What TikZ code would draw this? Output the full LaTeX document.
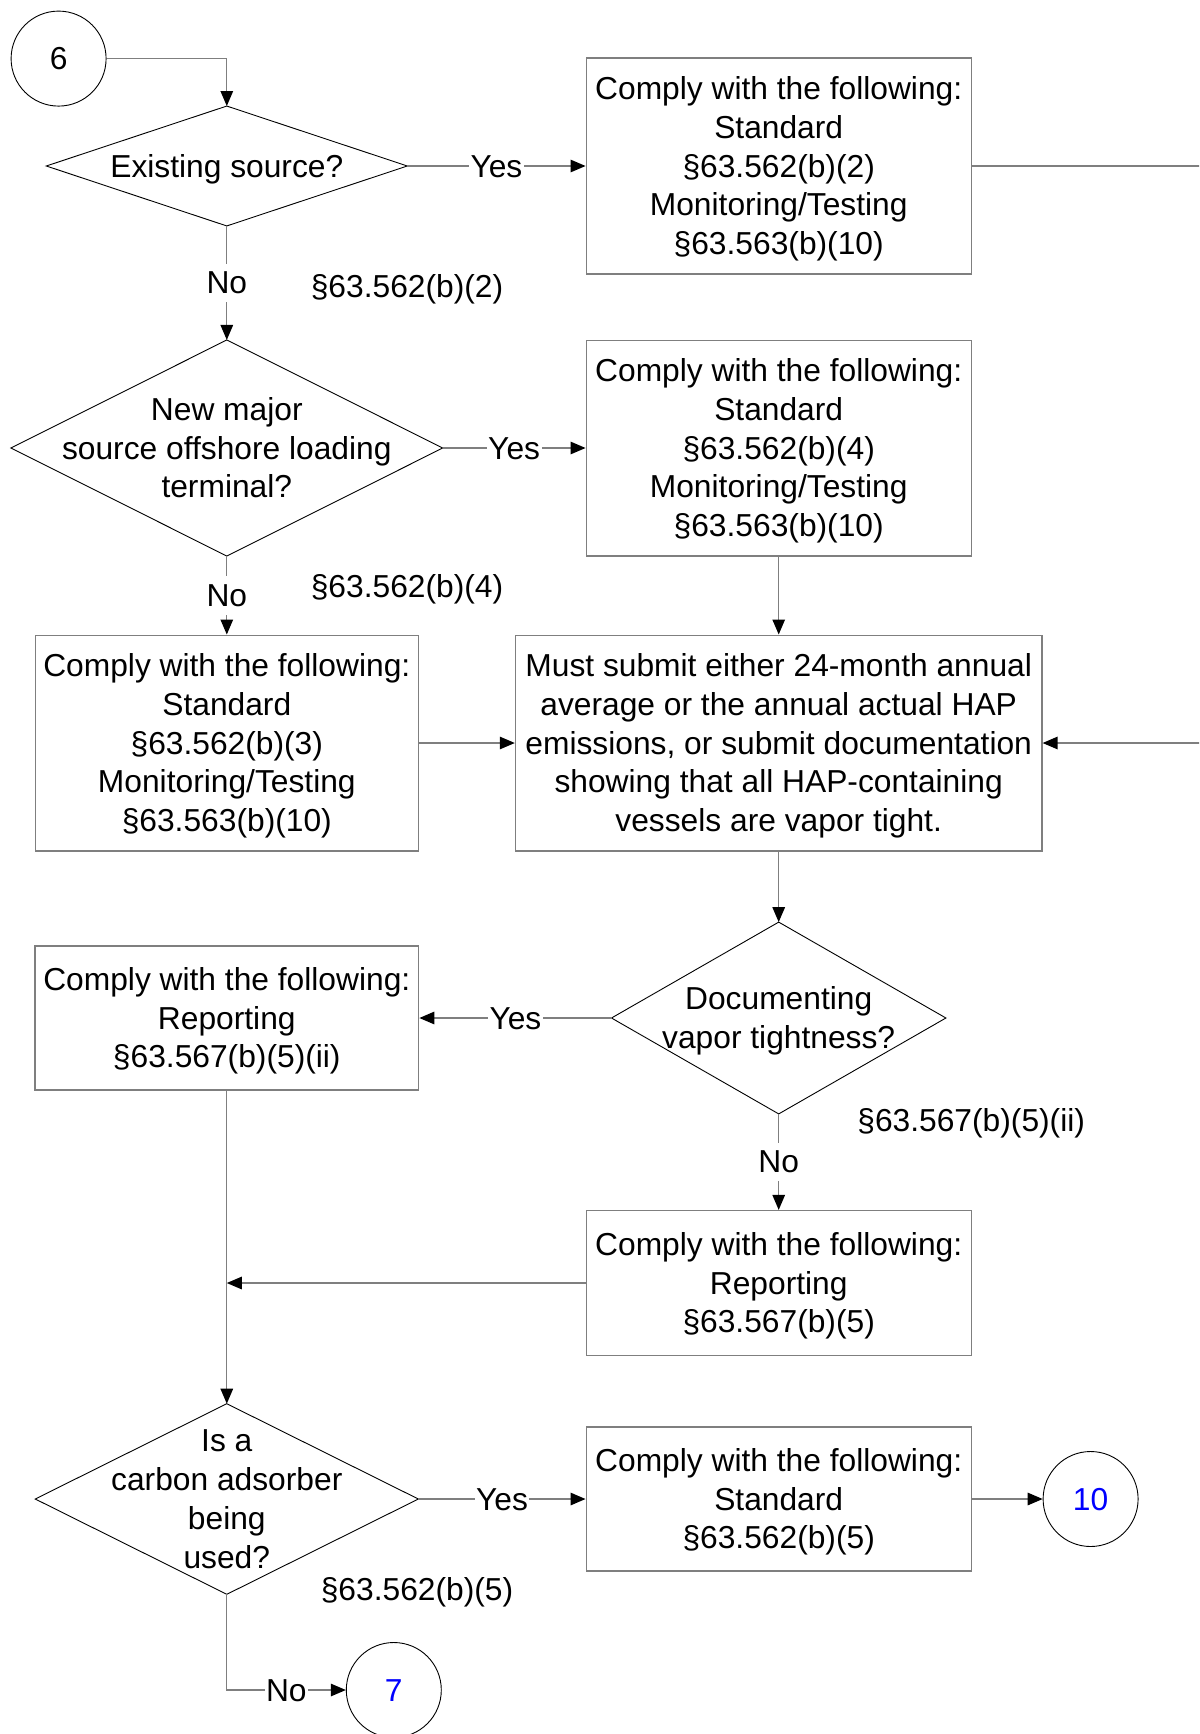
\documentclass[tikz,border=0pt]{standalone}
\usepackage{fontspec}
\setmainfont{Liberation Sans}
\usetikzlibrary{arrows.meta}
\definecolor{linegray}{HTML}{7F7F7F}
\definecolor{numblue}{HTML}{0000FF}
\tikzset{
  every node/.style={text height=28.73pt, text depth=6.73pt},
  ltwo/.style={text height=67.43pt},
  lthree/.style={text height=106.13pt},
  lfour/.style={text height=144.83pt},
  lfive/.style={text height=183.53pt},
  box/.style={rectangle, draw=linegray, line width=1.3pt, align=center, inner sep=0pt, minimum width=385pt},
  diabox/.style={rectangle, draw=none, align=center, inner sep=0pt},
  diaborder/.style={draw=black, line width=0.9pt},
  conn/.style={draw=linegray, line width=1.3pt},
  arr/.style={conn, -{Triangle[length=15pt,width=12.5pt,color=black]}},
  lbl/.style={fill=white, inner sep=1.5pt},
  sect/.style={inner sep=0pt},
  ref/.style={circle, draw=black, line width=0.9pt, minimum size=95pt, inner sep=0pt}
}
\begin{document}
\begin{tikzpicture}[x=1pt,y=-1pt,font=\fontsize{31.75pt}{38.7pt}\selectfont]
\useasboundingbox (0,0) rectangle (1199,1734);
\clip (0,0) rectangle (1199,1734);
\fill[white] (0,0) rectangle (1199,1734);

% circles
\node[ref] (c6) at (58.6,58.6) {6};
\node[ref, text=numblue] (c10) at (1090.6,1499) {10};
\node[ref, text=numblue] (c7) at (393.8,1690) {7};

% decision 1
\node[diabox, minimum width=360.6pt, minimum height=119.5pt] (d1) at (226.8,166) {Existing source?};
\draw[diaborder] (d1.north) -- (d1.east) -- (d1.south) -- (d1.west) -- cycle;
\node[box, lfive, minimum height=215.7pt] (b1) at (778.7,166) {Comply with the following:\\Standard\\§63.562(b)(2)\\Monitoring/Testing\\§63.563(b)(10)};

% decision 2
\node[diabox, lthree, minimum width=431.4pt, minimum height=215.7pt] (d2) at (226.8,448) {New major\\source offshore loading\\terminal?};
\draw[diaborder] (d2.north) -- (d2.east) -- (d2.south) -- (d2.west) -- cycle;
\node[box, lfive, minimum height=215.7pt] (b2) at (778.7,448) {Comply with the following:\\Standard\\§63.562(b)(4)\\Monitoring/Testing\\§63.563(b)(10)};

\node[box, lfive, minimum width=382.7pt, minimum height=215.7pt] (b3) at (226.8,743) {Comply with the following:\\Standard\\§63.562(b)(3)\\Monitoring/Testing\\§63.563(b)(10)};
\node[box, lfive, minimum width=526.5pt, minimum height=215.7pt] (big) at (778.7,743) {Must submit either 24-month annual\\average or the annual actual HAP\\emissions, or submit documentation\\showing that all HAP-containing\\vessels are vapor tight.};

% decision 3
\node[diabox, ltwo, minimum width=334pt, minimum height=191.4pt] (d3) at (778.7,1018) {Documenting\\vapor tightness?};
\draw[diaborder] (d3.north) -- (d3.east) -- (d3.south) -- (d3.west) -- cycle;
\node[box, lthree, minimum width=383.8pt, minimum height=143.8pt] (b4) at (226.8,1018) {Comply with the following:\\Reporting\\§63.567(b)(5)(ii)};
\node[box, lthree, minimum height=144.9pt] (b5) at (778.7,1283) {Comply with the following:\\Reporting\\§63.567(b)(5)};

% decision 4
\node[diabox, lfour, minimum width=382.7pt, minimum height=190.2pt] (d4) at (226.8,1499) {Is a\\carbon adsorber\\being\\used?};
\draw[diaborder] (d4.north) -- (d4.east) -- (d4.south) -- (d4.west) -- cycle;
\node[box, lthree, minimum height=143.8pt] (b6) at (778.7,1499) {Comply with the following:\\Standard\\§63.562(b)(5)};

% section labels
\node[sect] (s1) at (407,286.5) {§63.562(b)(2)};
\node[sect] (s2) at (407,586.2) {§63.562(b)(4)};
\node[sect] (s3) at (971.2,1120.5) {§63.567(b)(5)(ii)};
\node[sect] (s4) at (417,1589.5) {§63.562(b)(5)};

% off-page return path
\coordinate (rt) at (1230,166);
\coordinate (rb) at (1230,743);

% connectors
\draw[arr] (c6.east) -| (d1.north);
\draw[arr] (d1.east) -- node[lbl] {Yes} (b1.west);
\draw[arr] (d1.south) -- node[lbl] {No} (d2.north);
\draw[arr] (d2.east) -- node[lbl] {Yes} (b2.west);
\draw[arr] (d2.south) -- node[lbl] {No} (b3.north);
\draw[arr] (b2.south) -- (big.north);
\draw[arr] (b3.east) -- (big.west);
\draw[arr] (b1.east) -- (rt) -- (rb) -- (big.east);
\draw[arr] (big.south) -- (d3.north);
\draw[arr] (d3.west) -- node[lbl] {Yes} (b4.east);
\draw[arr] (d3.south) -- node[lbl] {No} (b5.north);
\draw[arr] (b5.west) -- (b5.west -| b4.south);
\draw[arr] (b4.south) -- (d4.north);
\draw[arr] (d4.east) -- node[lbl] {Yes} (b6.west);
\draw[arr] (b6.east) -- (c10.west);
\draw[arr] (d4.south) |- node[lbl, pos=0.75] {No} (c7.west);
\end{tikzpicture}
\end{document}
